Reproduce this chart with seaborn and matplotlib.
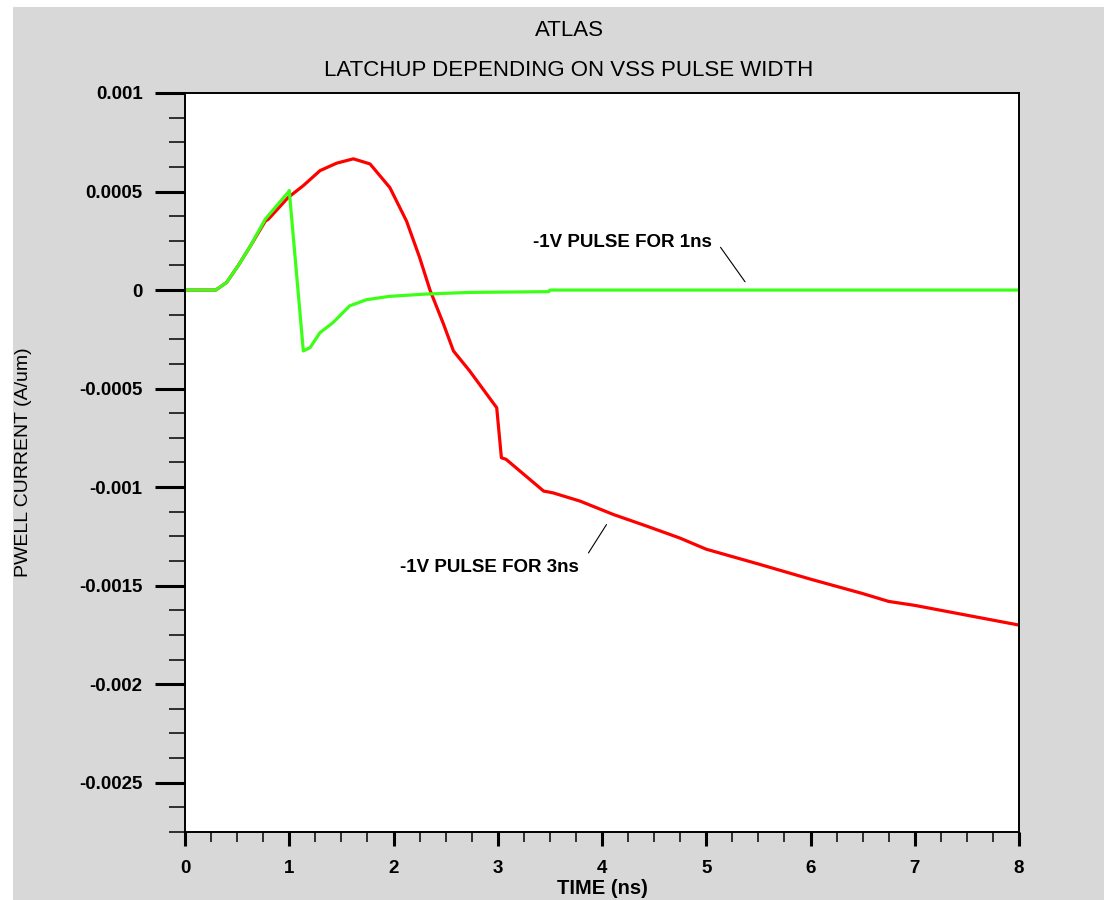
import matplotlib
matplotlib.use("Agg")
import matplotlib.pyplot as plt
from matplotlib.patches import Rectangle
from matplotlib.ticker import MultipleLocator
import seaborn as sns
import pandas as pd

# Transient P-well current, -1 V VSS pulse lasting 3 ns
t_3ns = [0.0, 0.295, 0.40, 0.51, 0.62, 0.77, 0.80, 0.99, 1.135, 1.295, 1.455,
         1.615, 1.775, 1.965, 2.125, 2.25, 2.35, 2.48, 2.575, 2.73, 2.93,
         2.99, 3.035, 3.08, 3.44, 3.53, 3.79, 4.11, 4.43, 4.745, 5.0, 5.5,
         6.0, 6.5, 6.75, 7.0, 7.5, 8.0]
i_3ns = [0.0, 0.0, 3.9e-5, 1.24e-4, 2.17e-4, 3.5e-4, 3.6e-4, 4.7e-4, 5.3e-4,
         6.06e-4, 6.44e-4, 6.66e-4, 6.4e-4, 5.2e-4, 3.5e-4, 1.66e-4, 0.0,
         -1.73e-4, -3.09e-4, -4.1e-4, -5.54e-4, -5.97e-4, -8.51e-4, -8.59e-4,
         -1.02e-3, -1.029e-3, -1.071e-3, -1.139e-3, -1.198e-3, -1.258e-3,
         -1.315e-3, -1.39e-3, -1.467e-3, -1.54e-3, -1.58e-3, -1.60e-3,
         -1.65e-3, -1.70e-3]

# Transient P-well current, -1 V VSS pulse lasting 1 ns
t_1ns = [0.0, 0.295, 0.40, 0.51, 0.62, 0.77, 0.99, 1.0, 1.135, 1.20, 1.295,
         1.42, 1.58, 1.74, 1.96, 2.32, 2.73, 3.49, 3.5, 8.0]
i_1ns = [0.0, 0.0, 3.9e-5, 1.24e-4, 2.17e-4, 3.6e-4, 4.96e-4, 5.05e-4,
         -3.09e-4, -2.92e-4, -2.16e-4, -1.65e-4, -8.0e-5, -4.9e-5, -3.2e-5,
         -2.0e-5, -1.2e-5, -8.0e-6, 0.0, 0.0]

x_ticks = [0, 1, 2, 3, 4, 5, 6, 7, 8]
y_ticks = [0.001, 0.0005, 0, -0.0005, -0.001, -0.0015, -0.002, -0.0025]
y_tick_labels = ["0.001", "0.0005", "0", "-0.0005", "-0.001", "-0.0015",
                 "-0.002", "-0.0025"]

title_lines = ["ATLAS", "LATCHUP DEPENDING ON VSS PULSE WIDTH"]
label_3ns = "-1V PULSE FOR 3ns"
label_1ns = "-1V PULSE FOR 1ns"

sns.set_style("ticks")
plt.rcParams["font.family"] = ["Liberation Sans", "DejaVu Sans"]
plt.rcParams["axes.unicode_minus"] = False
plt.rcParams["text.color"] = "black"
plt.rcParams["axes.labelcolor"] = "black"

fig = plt.figure(figsize=(11.04, 9.0), dpi=100, facecolor="white")
# grey panel behind the plot
fig.patches.append(Rectangle((13 / 1104, 0), 1.0, 893 / 900,
                             transform=fig.transFigure, facecolor="#d8d8d8",
                             edgecolor="none", zorder=-5))

ax = fig.add_axes([185 / 1104, 68 / 900, (1019 - 185) / 1104, (832 - 93) / 900])
ax.set_facecolor("white")

df3 = pd.DataFrame({"t": t_3ns, "i": i_3ns})
df1 = pd.DataFrame({"t": t_1ns, "i": i_1ns})
sns.lineplot(data=df3, x="t", y="i", ax=ax, color="#ff0000", linewidth=2.3,
             sort=False, estimator=None)
sns.lineplot(data=df1, x="t", y="i", ax=ax, color="#3cff18", linewidth=2.3,
             sort=False, estimator=None)

ax.set_xlim(0, 8)
ax.set_ylim(-0.00275, 0.001)

ax.set_xticks(x_ticks)
ax.set_xticklabels([str(v) for v in x_ticks])
ax.set_yticks(y_ticks)
ax.set_yticklabels(y_tick_labels)
ax.xaxis.set_minor_locator(MultipleLocator(0.25))
ax.yaxis.set_minor_locator(MultipleLocator(0.000125))

ax.tick_params(axis="y", which="major", direction="out", length=21.5, width=2.2,
               pad=9, labelsize=13.5, colors="black")
ax.tick_params(axis="y", which="minor", direction="out", length=11.5, width=1.1,
               colors="black")
ax.tick_params(axis="x", which="major", direction="out", length=10, width=2.2,
               pad=10, labelsize=13.5, colors="black")
ax.tick_params(axis="x", which="minor", direction="out", length=7, width=1.1,
               colors="black")
for lab in ax.get_xticklabels() + ax.get_yticklabels():
    lab.set_fontweight("bold")

for sp in ax.spines.values():
    sp.set_visible(True)
    sp.set_color("black")
    sp.set_linewidth(1.4)

ax.set_xlabel("TIME (ns)", fontsize=14.5, fontweight="bold")
ax.xaxis.label.set_va("center")
ax.xaxis.set_label_coords(0.5, -(888 - 832) / 739)
ax.set_ylabel("PWELL CURRENT (A/um)", fontsize=14)
ax.yaxis.label.set_va("center")
ax.yaxis.set_label_coords(-(185 - 24) / 834, 0.5)

fig.text(569 / 1104, 1 - 30 / 900, title_lines[0], ha="center", va="center",
         fontsize=16)
fig.text(569 / 1104, 1 - 70 / 900, title_lines[1], ha="center", va="center",
         fontsize=16)

# curve labels with leader lines
ax.text(3.34, 2.4e-4, label_1ns, ha="left", va="center", fontsize=13.5,
        fontweight="bold")
ax.plot([5.137, 5.372], [2.17e-4, 4.2e-5], color="black", linewidth=0.8)
ax.text(2.06, -1.41e-3, label_3ns, ha="left", va="center", fontsize=13.5,
        fontweight="bold")
ax.plot([3.87, 4.043], [-1.334e-3, -1.19e-3], color="black", linewidth=0.8)

fig.savefig("out.png", dpi=100, facecolor=fig.get_facecolor())
